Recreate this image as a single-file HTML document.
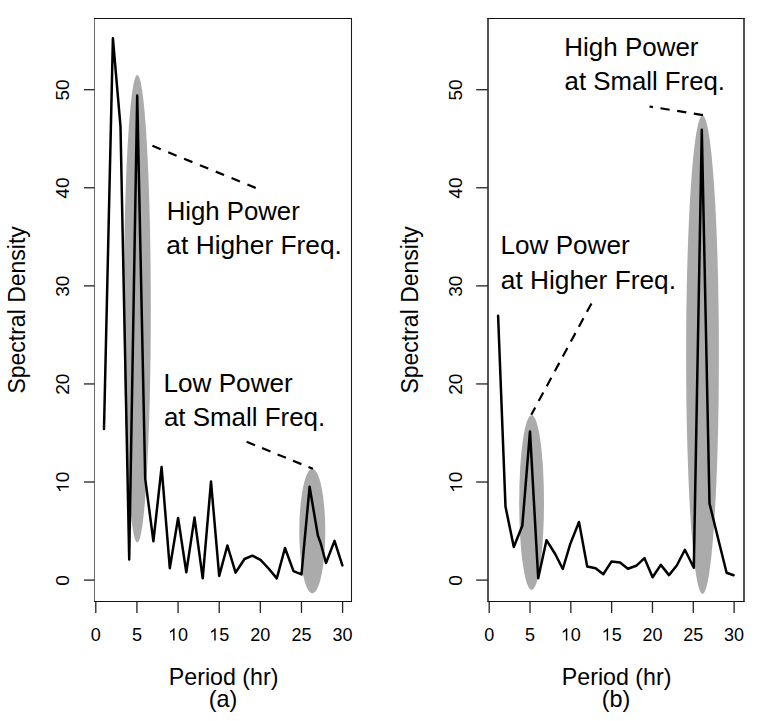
<!DOCTYPE html><html><head><meta charset="utf-8"><style>html,body{margin:0;padding:0;background:#fff;}svg{display:block;}</style></head><body>
<svg width="757" height="721" viewBox="0 0 757 721" font-family='"Liberation Sans", sans-serif'>
<rect width="757" height="721" fill="#fff"/>
<ellipse cx="137.3" cy="308.8" rx="13.5" ry="233.8" fill="#ababab"/>
<ellipse cx="312.3" cy="531.0" rx="13.0" ry="62.3" fill="#ababab"/>
<ellipse cx="531.6" cy="502.5" rx="12.4" ry="87.4" fill="#ababab"/>
<ellipse cx="702.5" cy="354.75" rx="16.4" ry="239.2" fill="#ababab"/>
<polyline points="104.0,429.0 112.9,38.3 120.5,126.5 129.2,559.4 137.2,95.4 145.2,478.6 153.4,541.3 161.6,467.0 169.8,568.2 178.1,517.9 186.3,572.2 194.5,517.6 202.7,578.3 211.0,481.6 219.2,575.9 227.4,545.5 235.6,572.6 244.5,559.0 252.4,555.7 260.5,559.8 268.6,568.5 276.8,578.4 285.0,548.0 293.5,571.1 301.5,574.4 304.4,542.5 309.6,486.8 317.9,535.6 320.7,543.2 326.0,563.0 334.5,540.9 342.4,565.4" fill="none" stroke="#000" stroke-width="2.5" stroke-linejoin="round" stroke-linecap="round"/>
<polyline points="498.1,315.8 505.5,506.6 513.8,547.0 522.3,525.8 530.0,431.4 538.2,578.3 546.5,540.2 555.2,554.0 562.8,569.0 570.2,544.1 579.0,522.0 587.2,566.5 595.6,568.3 603.3,574.3 611.6,561.4 620.0,562.6 627.9,568.8 636.2,565.8 644.5,558.2 652.6,577.3 660.8,564.9 669.0,575.1 676.8,565.5 684.9,549.8 693.8,567.8 701.8,129.7 709.5,503.5 719.4,543.8 726.6,572.8 733.6,575.2" fill="none" stroke="#000" stroke-width="2.5" stroke-linejoin="round" stroke-linecap="round"/>
<line x1="94.5" y1="18" x2="94.5" y2="602" stroke="#707070" stroke-width="1.05"/>
<line x1="351.5" y1="18" x2="351.5" y2="602" stroke="#1a1a1a" stroke-width="1.05"/>
<line x1="94.0" y1="18.5" x2="352.0" y2="18.5" stroke="#111" stroke-width="1.15"/>
<line x1="94.0" y1="601.5" x2="352.0" y2="601.5" stroke="#111" stroke-width="1.15"/>
<line x1="95.80" y1="601.4" x2="95.80" y2="612.9" stroke="#222" stroke-width="1.3"/>
<g transform="translate(95.80,640.6)"><text x="-5.005" y="0" font-size="18">0</text></g>
<line x1="136.93" y1="601.4" x2="136.93" y2="612.9" stroke="#222" stroke-width="1.3"/>
<g transform="translate(136.93,640.6)"><text x="-5.005" y="0" font-size="18">5</text></g>
<line x1="178.07" y1="601.4" x2="178.07" y2="612.9" stroke="#222" stroke-width="1.3"/>
<g transform="translate(178.07,640.6)"><path d="M738 0L573 0L573 1147C530 1106 473 1064 402 1023C331 982 268 951 213 930L213 1103C312 1149 399 1206 474 1272C549 1338 602 1402 633 1466L738 1466Z" transform="translate(-10.011,0) scale(0.00879,-0.00845)"/><text x="0.000" y="0" font-size="18">0</text></g>
<line x1="219.20" y1="601.4" x2="219.20" y2="612.9" stroke="#222" stroke-width="1.3"/>
<g transform="translate(219.20,640.6)"><path d="M738 0L573 0L573 1147C530 1106 473 1064 402 1023C331 982 268 951 213 930L213 1103C312 1149 399 1206 474 1272C549 1338 602 1402 633 1466L738 1466Z" transform="translate(-10.011,0) scale(0.00879,-0.00845)"/><text x="0.000" y="0" font-size="18">5</text></g>
<line x1="260.33" y1="601.4" x2="260.33" y2="612.9" stroke="#222" stroke-width="1.3"/>
<g transform="translate(260.33,640.6)"><text x="-10.011" y="0" font-size="18">2</text><text x="0.000" y="0" font-size="18">0</text></g>
<line x1="301.47" y1="601.4" x2="301.47" y2="612.9" stroke="#222" stroke-width="1.3"/>
<g transform="translate(301.47,640.6)"><text x="-10.011" y="0" font-size="18">2</text><text x="0.000" y="0" font-size="18">5</text></g>
<line x1="342.60" y1="601.4" x2="342.60" y2="612.9" stroke="#222" stroke-width="1.3"/>
<g transform="translate(342.60,640.6)"><text x="-10.011" y="0" font-size="18">3</text><text x="0.000" y="0" font-size="18">0</text></g>
<line x1="83.90" y1="580.10" x2="94.5" y2="580.10" stroke="#222" stroke-width="1.3"/>
<g transform="translate(68.70,580.40) rotate(-90) scale(1.06,0.985)"><text x="-5.005" y="0" font-size="18">0</text></g>
<line x1="83.90" y1="482.02" x2="94.5" y2="482.02" stroke="#222" stroke-width="1.3"/>
<g transform="translate(68.70,482.32) rotate(-90) scale(1.06,0.985)"><path d="M738 0L573 0L573 1147C530 1106 473 1064 402 1023C331 982 268 951 213 930L213 1103C312 1149 399 1206 474 1272C549 1338 602 1402 633 1466L738 1466Z" transform="translate(-10.011,0) scale(0.00879,-0.00845)"/><text x="0.000" y="0" font-size="18">0</text></g>
<line x1="83.90" y1="383.94" x2="94.5" y2="383.94" stroke="#222" stroke-width="1.3"/>
<g transform="translate(68.70,384.24) rotate(-90) scale(1.06,0.985)"><text x="-10.011" y="0" font-size="18">2</text><text x="0.000" y="0" font-size="18">0</text></g>
<line x1="83.90" y1="285.86" x2="94.5" y2="285.86" stroke="#222" stroke-width="1.3"/>
<g transform="translate(68.70,286.16) rotate(-90) scale(1.06,0.985)"><text x="-10.011" y="0" font-size="18">3</text><text x="0.000" y="0" font-size="18">0</text></g>
<line x1="83.90" y1="187.78" x2="94.5" y2="187.78" stroke="#222" stroke-width="1.3"/>
<g transform="translate(68.70,188.08) rotate(-90) scale(1.06,0.985)"><text x="-10.011" y="0" font-size="18">4</text><text x="0.000" y="0" font-size="18">0</text></g>
<line x1="83.90" y1="89.70" x2="94.5" y2="89.70" stroke="#222" stroke-width="1.3"/>
<g transform="translate(68.70,90.00) rotate(-90) scale(1.06,0.985)"><text x="-10.011" y="0" font-size="18">5</text><text x="0.000" y="0" font-size="18">0</text></g>
<text x="223.60" y="685.2" font-size="23.2" text-anchor="middle">Period (hr)</text>
<text x="223.00" y="706.5" font-size="23.4" text-anchor="middle">(a)</text>
<text transform="translate(24.90,309.88) rotate(-90)" font-size="23" text-anchor="middle">Spectral Density</text>
<line x1="488.0" y1="18" x2="488.0" y2="602" stroke="#555" stroke-width="2.0"/>
<line x1="744.0" y1="18" x2="744.0" y2="602" stroke="#555" stroke-width="2.0"/>
<line x1="487.5" y1="18.5" x2="744.5" y2="18.5" stroke="#111" stroke-width="1.15"/>
<line x1="487.5" y1="601.5" x2="744.5" y2="601.5" stroke="#111" stroke-width="1.15"/>
<line x1="489.20" y1="601.4" x2="489.20" y2="612.9" stroke="#222" stroke-width="1.3"/>
<g transform="translate(489.20,640.6)"><text x="-5.005" y="0" font-size="18">0</text></g>
<line x1="530.02" y1="601.4" x2="530.02" y2="612.9" stroke="#222" stroke-width="1.3"/>
<g transform="translate(530.02,640.6)"><text x="-5.005" y="0" font-size="18">5</text></g>
<line x1="570.83" y1="601.4" x2="570.83" y2="612.9" stroke="#222" stroke-width="1.3"/>
<g transform="translate(570.83,640.6)"><path d="M738 0L573 0L573 1147C530 1106 473 1064 402 1023C331 982 268 951 213 930L213 1103C312 1149 399 1206 474 1272C549 1338 602 1402 633 1466L738 1466Z" transform="translate(-10.011,0) scale(0.00879,-0.00845)"/><text x="0.000" y="0" font-size="18">0</text></g>
<line x1="611.65" y1="601.4" x2="611.65" y2="612.9" stroke="#222" stroke-width="1.3"/>
<g transform="translate(611.65,640.6)"><path d="M738 0L573 0L573 1147C530 1106 473 1064 402 1023C331 982 268 951 213 930L213 1103C312 1149 399 1206 474 1272C549 1338 602 1402 633 1466L738 1466Z" transform="translate(-10.011,0) scale(0.00879,-0.00845)"/><text x="0.000" y="0" font-size="18">5</text></g>
<line x1="652.47" y1="601.4" x2="652.47" y2="612.9" stroke="#222" stroke-width="1.3"/>
<g transform="translate(652.47,640.6)"><text x="-10.011" y="0" font-size="18">2</text><text x="0.000" y="0" font-size="18">0</text></g>
<line x1="693.28" y1="601.4" x2="693.28" y2="612.9" stroke="#222" stroke-width="1.3"/>
<g transform="translate(693.28,640.6)"><text x="-10.011" y="0" font-size="18">2</text><text x="0.000" y="0" font-size="18">5</text></g>
<line x1="734.10" y1="601.4" x2="734.10" y2="612.9" stroke="#222" stroke-width="1.3"/>
<g transform="translate(734.10,640.6)"><text x="-10.011" y="0" font-size="18">3</text><text x="0.000" y="0" font-size="18">0</text></g>
<line x1="476.20" y1="580.10" x2="488.0" y2="580.10" stroke="#222" stroke-width="1.3"/>
<g transform="translate(462.20,580.40) rotate(-90) scale(1.06,0.985)"><text x="-5.005" y="0" font-size="18">0</text></g>
<line x1="476.20" y1="482.02" x2="488.0" y2="482.02" stroke="#222" stroke-width="1.3"/>
<g transform="translate(462.20,482.32) rotate(-90) scale(1.06,0.985)"><path d="M738 0L573 0L573 1147C530 1106 473 1064 402 1023C331 982 268 951 213 930L213 1103C312 1149 399 1206 474 1272C549 1338 602 1402 633 1466L738 1466Z" transform="translate(-10.011,0) scale(0.00879,-0.00845)"/><text x="0.000" y="0" font-size="18">0</text></g>
<line x1="476.20" y1="383.94" x2="488.0" y2="383.94" stroke="#222" stroke-width="1.3"/>
<g transform="translate(462.20,384.24) rotate(-90) scale(1.06,0.985)"><text x="-10.011" y="0" font-size="18">2</text><text x="0.000" y="0" font-size="18">0</text></g>
<line x1="476.20" y1="285.86" x2="488.0" y2="285.86" stroke="#222" stroke-width="1.3"/>
<g transform="translate(462.20,286.16) rotate(-90) scale(1.06,0.985)"><text x="-10.011" y="0" font-size="18">3</text><text x="0.000" y="0" font-size="18">0</text></g>
<line x1="476.20" y1="187.78" x2="488.0" y2="187.78" stroke="#222" stroke-width="1.3"/>
<g transform="translate(462.20,188.08) rotate(-90) scale(1.06,0.985)"><text x="-10.011" y="0" font-size="18">4</text><text x="0.000" y="0" font-size="18">0</text></g>
<line x1="476.20" y1="89.70" x2="488.0" y2="89.70" stroke="#222" stroke-width="1.3"/>
<g transform="translate(462.20,90.00) rotate(-90) scale(1.06,0.985)"><text x="-10.011" y="0" font-size="18">5</text><text x="0.000" y="0" font-size="18">0</text></g>
<text x="616.60" y="685.2" font-size="23.2" text-anchor="middle">Period (hr)</text>
<text x="616.00" y="706.5" font-size="23.4" text-anchor="middle">(b)</text>
<text transform="translate(418.40,309.88) rotate(-90)" font-size="23" text-anchor="middle">Spectral Density</text>
<line x1="152.4" y1="145.8" x2="255.9" y2="188.0" stroke="#000" stroke-width="2.2" stroke-dasharray="9 8.1"/>
<line x1="246.6" y1="441.8" x2="312.9" y2="468.8" stroke="#000" stroke-width="2.2" stroke-dasharray="9.1 7.6"/>
<line x1="703.0" y1="115.1" x2="649.5" y2="106.5" stroke="#000" stroke-width="2.2" stroke-dasharray="9.3 7.6"/>
<line x1="591.5" y1="303.4" x2="531.3" y2="414.7" stroke="#000" stroke-width="2.2" stroke-dasharray="9.6 7.3"/>
<text x="166.69" y="220.1" font-size="25.5" textLength="133.04" lengthAdjust="spacingAndGlyphs">High Power</text>
<text x="166.38" y="254.0" font-size="25.5" textLength="175.52" lengthAdjust="spacingAndGlyphs">at Higher Freq.</text>
<text x="163.45" y="391.7" font-size="25.5" textLength="129.38" lengthAdjust="spacingAndGlyphs">Low Power</text>
<text x="163.90" y="425.5" font-size="25.5" textLength="161.27" lengthAdjust="spacingAndGlyphs">at Small Freq.</text>
<text x="564.27" y="55.9" font-size="25.5" textLength="134.26" lengthAdjust="spacingAndGlyphs">High Power</text>
<text x="564.61" y="89.7" font-size="25.5" textLength="160.35" lengthAdjust="spacingAndGlyphs">at Small Freq.</text>
<text x="500.56" y="254.1" font-size="25.5" textLength="129.07" lengthAdjust="spacingAndGlyphs">Low Power</text>
<text x="500.78" y="289.2" font-size="25.5" textLength="175.21" lengthAdjust="spacingAndGlyphs">at Higher Freq.</text>
</svg></body></html>
